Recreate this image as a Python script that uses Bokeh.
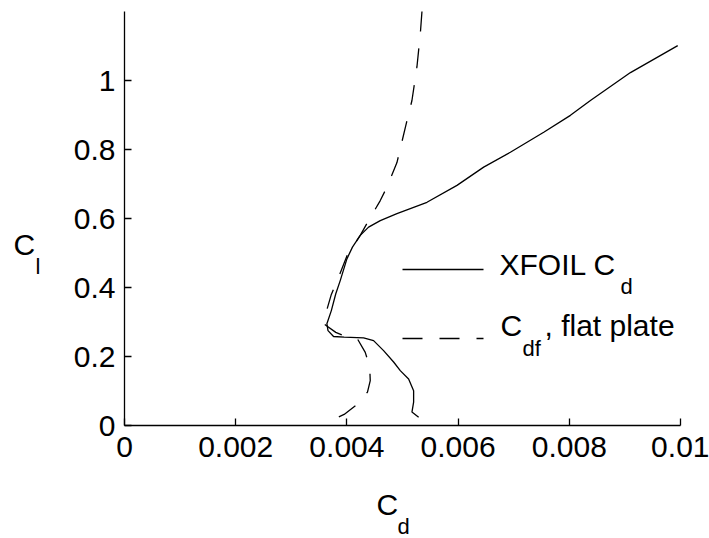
from bokeh.plotting import figure
from bokeh.models import Range1d, FixedTicker, Label
from bokeh.embed import file_html
from bokeh.resources import INLINE

# XFOIL drag polar, traced from high lift down to zero lift
xfoil_cd = [0.00995, 0.00910, 0.00838, 0.00802, 0.00754, 0.00694, 0.00646, 0.00598,
            0.00544, 0.00490, 0.00460, 0.00439, 0.00424, 0.00410, 0.00400, 0.00388,
            0.00380, 0.00372, 0.00364, 0.00366, 0.00376, 0.00395, 0.00430, 0.00448,
            0.00466, 0.00484, 0.00496, 0.00511, 0.00520, 0.00520, 0.00517, 0.00529]
xfoil_cl = [1.101, 1.023, 0.942, 0.899, 0.850, 0.792, 0.749, 0.696,
            0.647, 0.614, 0.594, 0.575, 0.551, 0.517, 0.483, 0.420,
            0.382, 0.333, 0.295, 0.275, 0.258, 0.256, 0.254, 0.246,
            0.217, 0.184, 0.159, 0.135, 0.101, 0.068, 0.039, 0.024]

# flat-plate skin friction drag at the same lift
plate_cd = [0.00535, 0.00532, 0.00526, 0.00517, 0.00506, 0.00490, 0.00472, 0.00460,
            0.00439, 0.00424, 0.00401, 0.00385, 0.00372, 0.00363, 0.00358, 0.00380,
            0.00400, 0.00419, 0.00433, 0.00441, 0.00442, 0.00437, 0.00424, 0.00395,
            0.00364]
plate_cl = [1.200, 1.135, 1.040, 0.942, 0.870, 0.762, 0.691, 0.652,
            0.594, 0.551, 0.495, 0.430, 0.380, 0.330, 0.295, 0.270,
            0.256, 0.251, 0.212, 0.170, 0.130, 0.097, 0.068, 0.032,
            0.010]

x_ticks = [0, 0.002, 0.004, 0.006, 0.008, 0.01]
x_tick_labels = ["0", "0.002", "0.004", "0.006", "0.008", "0.01"]
y_ticks = [0, 0.2, 0.4, 0.6, 0.8, 1.0]
y_tick_labels = ["0", "0.2", "0.4", "0.6", "0.8", "1"]

FONT = "Liberation Sans"
BIG = "30px"
SUB = "22px"
DASH = "20 17"
# how far the drawn glyphs sit below the requested baseline, per size
DROP = {BIG: 13, SUB: 7}
W, H = 709, 538
# pixel box of the axes inside the canvas
LEFT, RIGHT, TOP, BOTTOM = 124, 680, 11, 425
X0, X1 = 0.0, 0.01
Y0, Y1 = 0.0, 1.2

sx = (X1 - X0) / (RIGHT - LEFT)
sy = (Y1 - Y0) / (BOTTOM - TOP)
def dx(px):
    return X0 + (px - LEFT) * sx
def dy(py):
    return Y0 + (BOTTOM - py) * sy

# the frame spans the whole canvas; the axes sit at fixed data locations
p = figure(width=W, height=H, output_backend="svg", toolbar_location=None,
           x_range=Range1d(dx(0), dx(W)), y_range=Range1d(dy(H), dy(0)),
           min_border=0)
p.outline_line_color = None
p.grid.visible = False
p.background_fill_color = "white"
p.border_fill_color = "white"

for ax, ticks, labels, loc, bounds in ((p.xaxis[0], x_ticks, x_tick_labels, Y0, (X0, X1)),
                                       (p.yaxis[0], y_ticks, y_tick_labels, X0, (Y0, Y1))):
    ax.fixed_location = loc
    ax.bounds = bounds
    ax.ticker = FixedTicker(ticks=ticks)
    ax.major_label_overrides = dict(zip(ticks, labels))
    ax.major_tick_in = 7
    ax.major_tick_out = 0
    ax.minor_tick_line_color = None
    ax.axis_line_width = 1.3
    ax.major_tick_line_width = 1.3
    ax.major_label_text_font = FONT
    ax.major_label_text_font_size = BIG
    ax.major_label_text_color = "black"
    ax.axis_line_color = "black"
    ax.major_tick_line_color = "black"
p.xaxis.major_label_standoff = 11
p.yaxis.major_label_standoff = 9

p.line(xfoil_cd, xfoil_cl, line_color="black", line_width=1.3)
p.line(plate_cd, plate_cl, line_color="black", line_width=1.3, line_dash=DASH)

def txt(s, px, py, size):
    p.add_layout(Label(x=dx(px), y=dy(py - DROP[size]), text=s, text_font=FONT,
                       text_font_size=size, text_color="black",
                       text_baseline="alphabetic", text_align="left"))

# axis titles with subscripts
txt("C", 376, 517, BIG)
txt("d", 397, 533, SUB)
txt("C", 13, 257, BIG)
txt("l", 35, 273, SUB)

# key
p.line([dx(402), dx(483)], [dy(269), dy(269)], line_color="black", line_width=1.3)
p.line([dx(402), dx(483)], [dy(338), dy(338)], line_color="black", line_width=1.3,
       line_dash=DASH)
txt("XFOIL C", 499, 277, BIG)
txt("d", 620, 293, SUB)
txt("C", 500, 338, BIG)
txt("df", 522, 355, SUB)
txt(", flat plate", 544, 338, BIG)

open("out.html", "w").write(file_html(p, INLINE))
